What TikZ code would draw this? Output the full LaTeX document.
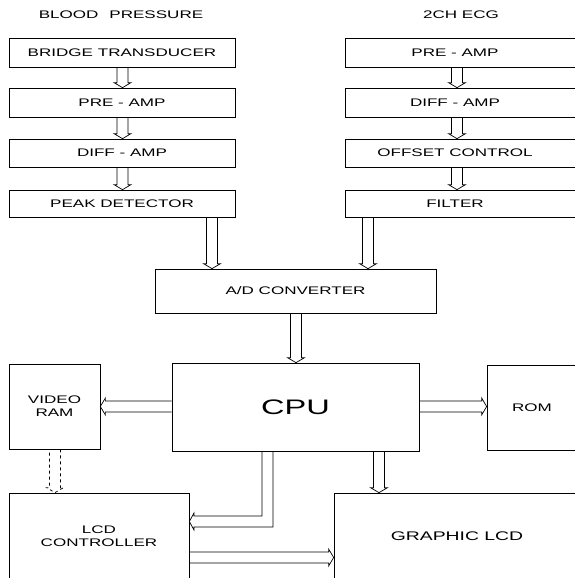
\documentclass[tikz,border=0pt]{standalone}
\usepackage{fontspec}
\setmainfont{Liberation Sans}[FakeStretch=1.55]
\usetikzlibrary{calc}
% hollow bus arrow from #2 to #3
\newcommand\bus[3][]{%
	\coordinate (bs) at (#2);
	\coordinate (be) at (#3);
	\coordinate (bb) at ($(be)!5pt!(bs)$);
	\draw[#1] ($(bs)!5.5pt!90:(be)$) -- ($(bb)!5.5pt!90:(be)$) -- ($(bb)!8.5pt!90:(be)$) -- (be)
		-- ($(bb)!8.5pt!-90:(be)$) -- ($(bb)!5.5pt!-90:(be)$) -- ($(bs)!5.5pt!-90:(be)$);}
\begin{document}
\begin{tikzpicture}
			[x=1pt, y=-1pt, line width=0.7pt, line join=miter,
			every node/.style={font=\fontsize{11}{13}\selectfont},
			box/.style={draw, rectangle, minimum height=29pt, inner sep=0pt}]
			\clip (0,0) rectangle (575,578);
			\node (bp) at (121,15) {BLOOD\quad PRESSURE};
			\node (ecg) at (461,15) {2CH ECG};
			
			\node[box, minimum width=226pt] (bt) at (122,52.5) {BRIDGE TRANSDUCER};
			\node[box, minimum width=226pt] (pre1) at (122,102.5) {PRE - AMP};
			\node[box, minimum width=226pt, minimum height=28pt] (diff1) at (122,153) {DIFF - AMP};
			\node[box, minimum width=226pt, minimum height=27pt] (pk) at (122,203.5) {PEAK DETECTOR};
			
			\node[box, minimum width=240pt] (pre2) at (465,52.5) {PRE - AMP\hspace*{20pt}};
			\node[box, minimum width=240pt] (diff2) at (465,102.5) {DIFF - AMP\hspace*{20pt}};
			\node[box, minimum width=240pt, minimum height=28pt] (off) at (465,153) {OFFSET CONTROL\hspace*{20pt}};
			\node[box, minimum width=240pt, minimum height=27pt] (flt) at (465,203.5) {FILTER\hspace*{20pt}};
			
			\node[box, minimum width=281pt, minimum height=44pt] (adc) at (295.5,291) {A/D CONVERTER};
			\node[box, minimum width=247pt, minimum height=88pt, font=\fontsize{21}{24}\selectfont] (cpu) at (295.5,407) {CPU};
			\node[box, minimum width=91pt, minimum height=85pt, align=center] (vram) at (54.5,406.5) {VIDEO\\RAM};
			\node[box, minimum width=90pt, minimum height=85pt] (rom) at (532,407.5) {ROM};
			\node[box, minimum width=180pt, minimum height=86pt, align=center] (lcdc) at (99,536) {LCD\\CONTROLLER};
			\node[box, minimum width=246pt, minimum height=86pt, font=\fontsize{12.5}{15}\selectfont] (glcd) at (457,536) {GRAPHIC LCD};
			
			\bus{bt.south -| 122.5,0}{pre1.north -| 122.5,0}
			\bus{pre1.south -| 122.5,0}{diff1.north -| 122.5,0}
			\bus{diff1.south -| 122.5,0}{pk.north -| 122.5,0}
			\bus{pre2.south -| 457,0}{diff2.north -| 457,0}
			\bus{diff2.south -| 457,0}{off.north -| 457,0}
			\bus{off.south -| 457,0}{flt.north -| 457,0}
			
			\bus{pk.south -| 212,0}{adc.north -| 212,0}
			\bus{flt.south -| 368,0}{adc.north -| 368,0}
			\bus{adc.south -| 296,0}{cpu.north -| 296,0}
			
			\bus{cpu.west |- 0,406.5}{vram.east |- 0,406.5}
			\bus{cpu.east |- 0,406.5}{rom.west |- 0,406.5}
			\bus[dashed]{vram.south -| 55,0}{lcdc.north -| 55,0}
			\draw (cpu.south -| 262,0) |- (194,516) -- (194,513) -- (lcdc.east |- 0,521.5)
				-- (194,530) -- (194,527) -| (cpu.south -| 273,0);
			\bus{cpu.south -| 379,0}{glcd.north -| 379,0}
			\bus{lcdc.east |- 0,557.5}{glcd.west |- 0,557.5}
		\end{tikzpicture}
\end{document}
